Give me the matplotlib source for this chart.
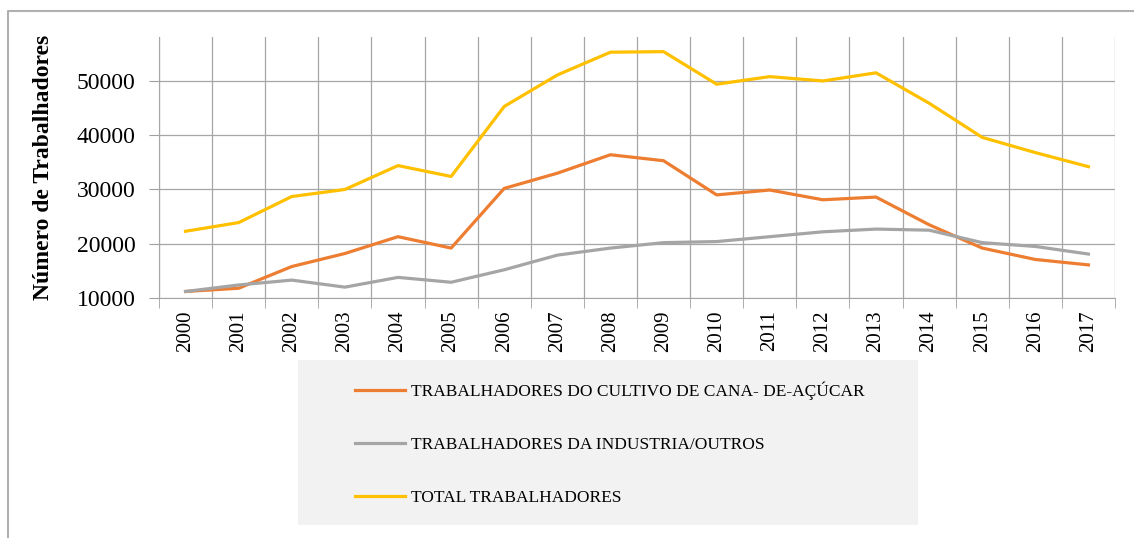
import matplotlib.pyplot as plt
from matplotlib.lines import Line2D
from matplotlib.patches import Rectangle

anos = ['2000', '2001', '2002', '2003', '2004', '2005', '2006', '2007', '2008',
        '2009', '2010', '2011', '2012', '2013', '2014', '2015', '2016', '2017']

cana = [11200, 11800, 15800, 18200, 21300, 19200, 30200, 33000, 36400,
        35300, 29000, 29900, 28100, 28600, 23500, 19200, 17100, 16100]

industria = [11200, 12400, 13300, 12000, 13800, 12900, 15200, 17900, 19200,
             20200, 20400, 21300, 22200, 22700, 22500, 20200, 19500, 18100]

total = [22300, 23900, 28700, 30000, 34400, 32400, 45300, 51100, 55300,
         55400, 49400, 50800, 50000, 51500, 45900, 39600, 36800, 34200]

nomes = ['TRABALHADORES DO CULTIVO DE CANA- DE-AÇÚCAR',
         'TRABALHADORES DA INDUSTRIA/OUTROS',
         'TOTAL TRABALHADORES']
cores = ['#ED7D31', '#A5A5A5', '#FFC000']

plt.rcParams['font.family'] = ['Liberation Serif', 'DejaVu Serif']

W, H = 1134, 538
fig = plt.figure(figsize=(W / 100, H / 100), dpi=100)

# borda externa (so topo e esquerda aparecem no recorte)
fig.lines.append(Line2D([7.5 / W, 7.5 / W, 1], [0, 1 - 11 / H, 1 - 11 / H],
                        transform=fig.transFigure, color='#b0b0b0', linewidth=1.5))

ax = fig.add_axes([159 / W, 1 - 298 / H, (1115 - 159) / W, (298 - 37) / H])

x = list(range(len(anos)))
for serie, nome, cor in zip([cana, industria, total], nomes, cores):
    ax.plot(x, serie, color=cor, linewidth=2.3, label=nome)

ax.set_xlim(-0.5, len(anos) - 0.5)
ax.set_ylim(10000, 58100)
ax.set_yticks([10000, 20000, 30000, 40000, 50000])
ax.set_xticks(x)
ax.set_xticklabels(anos, rotation=90, fontsize=15)
ax.set_xticks([i - 0.5 for i in range(len(anos) + 1)], minor=True)
ax.tick_params(axis='x', which='major', length=0, pad=9)
ax.tick_params(axis='x', which='minor', length=7, color='#a0a0a0')
ax.tick_params(axis='y', length=7, color='#a0a0a0', labelsize=17, pad=10)

ax.grid(axis='y', which='major', color='#a6a6a6', linewidth=0.9)
ax.grid(axis='x', which='minor', color='#a6a6a6', linewidth=0.9)
ax.set_axisbelow(True)
for lado in ['top', 'right']:
    ax.spines[lado].set_visible(False)
ax.spines['left'].set_color('#a6a6a6')
ax.spines['bottom'].set_color('#a6a6a6')

ax.set_ylabel('Número de Trabalhadores', fontsize=17, fontweight='bold', labelpad=16)

# legenda
fig.patches.append(Rectangle((298 / W, 1 - 525 / H), 620 / W, 165 / H, transform=fig.transFigure,
                             facecolor='#f2f2f2', edgecolor='none'))
fig.legend(loc='upper left', bbox_to_anchor=(355 / W, 1 - 382 / H), frameon=False,
           fontsize=12.5, handlelength=2.9, handletextpad=0.3, labelspacing=2.1,
           borderpad=0, borderaxespad=0)

fig.savefig('out.png', dpi=100)
